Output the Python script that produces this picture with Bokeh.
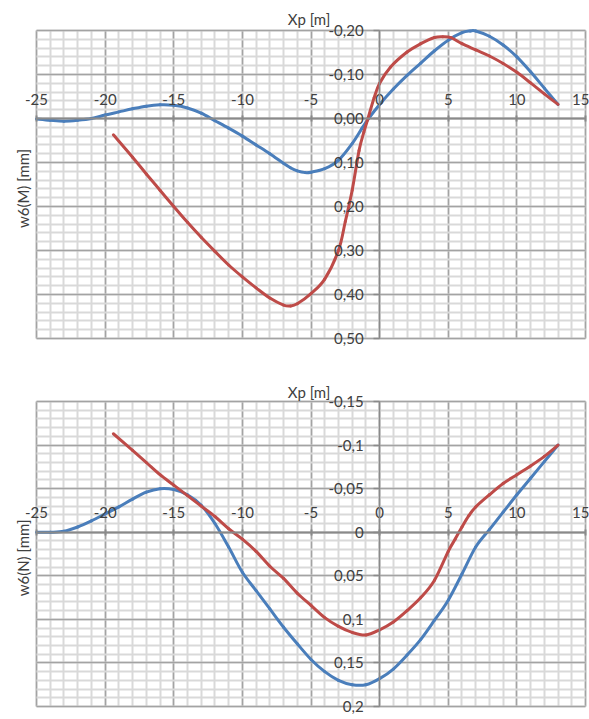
import numpy as np
from bokeh.plotting import figure
from bokeh.models import Range1d, LinearAxis, FixedTicker, Grid, Label
from bokeh.layouts import column
from bokeh.embed import file_html
from bokeh.resources import INLINE

# ---------------- data ----------------
x_ticks = [-25, -20, -15, -10, -5, 0, 5, 10, 15]
x_tick_labels = ["-25", "-20", "-15", "-10", "-5", "0", "5", "10", "15"]

m_y_ticks = [-0.2, -0.1, 0.0, 0.1, 0.2, 0.3, 0.4, 0.5]
m_y_tick_labels = ["-0,20", "-0,10", "0,00", "0,10", "0,20", "0,30", "0,40", "0,50"]

n_y_ticks = [-0.15, -0.1, -0.05, 0.0, 0.05, 0.1, 0.15, 0.2]
n_y_tick_labels = ["-0,15", "-0,1", "-0,05", "0", "0,05", "0,1", "0,15", "0,2"]

x_title = "Xp  [m]"
m_y_title = "w6(M)  [mm]"
n_y_title = "w6(N)  [mm]"

# w6(M) - blue series
m_blue_x = [-25, -24, -23, -22, -21, -20, -19, -18, -17, -16, -15, -14, -13, -12, -11,
            -10, -9, -8, -7, -6.5, -6, -5.4, -5, -4, -3, -2, -1.3, -0.8, 0, 1, 2, 3, 4,
            5, 6, 6.6, 7, 8, 9, 10, 11, 12, 13]
m_blue_y = [0.001, 0.004, 0.006, 0.004, 0.0, -0.008, -0.015, -0.022, -0.028, -0.031,
            -0.030, -0.024, -0.012, 0.005, 0.022, 0.040, 0.060, 0.080, 0.102, 0.112,
            0.119, 0.123, 0.122, 0.114, 0.095, 0.057, 0.023, 0.0, -0.032, -0.067,
            -0.098, -0.126, -0.154, -0.178, -0.195, -0.199, -0.199, -0.187, -0.167,
            -0.140, -0.106, -0.069, -0.032]

# w6(M) - red series
m_red_x = [-19.4, -18, -17, -16, -15, -14, -13, -12, -11, -10, -9, -8, -7, -6.5, -6, -5,
           -4, -3, -2.5, -2, -1.5, -1.15, -0.85, -0.4, 0, 0.8, 2, 3, 4, 4.6, 5.2, 6, 7,
           8, 9, 10, 11, 12, 13]
m_red_y = [0.037, 0.088, 0.126, 0.163, 0.200, 0.236, 0.270, 0.302, 0.333, 0.360, 0.385,
           0.408, 0.424, 0.426, 0.421, 0.398, 0.365, 0.300, 0.234, 0.163, 0.073, 0.031,
           0.0, -0.047, -0.080, -0.117, -0.151, -0.170, -0.184, -0.186, -0.184, -0.170,
           -0.156, -0.142, -0.125, -0.105, -0.081, -0.056, -0.032]

# w6(N) - blue series
n_blue_x = [-25, -24, -23, -22, -21, -20, -19, -18, -17, -16, -15, -14, -13, -12, -11,
            -10, -9, -8, -7, -6, -5, -4, -3, -2, -1, 0, 1, 2, 3, 4, 5, 6, 7, 8, 9, 10,
            11, 12, 13]
n_blue_y = [0.0, 0.0, -0.001, -0.006, -0.013, -0.021, -0.029, -0.038, -0.046, -0.050,
            -0.049, -0.043, -0.031, -0.010, 0.017, 0.046, 0.067, 0.088, 0.109, 0.128,
            0.146, 0.160, 0.170, 0.175, 0.175, 0.168, 0.157, 0.141, 0.123, 0.101, 0.078,
            0.048, 0.017, -0.003, -0.023, -0.043, -0.062, -0.081, -0.100]

# w6(N) - red series
n_red_x = [-19.4, -18, -17, -16, -15, -14, -13, -12, -11, -10, -9, -8, -7, -6, -5, -4,
           -3, -2, -1, 0, 1, 2, 3, 4, 5, 5.5, 6, 6.5, 7, 8, 9, 10, 11, 12, 13]
n_red_y = [-0.113, -0.094, -0.080, -0.066, -0.054, -0.042, -0.030, -0.018, -0.004,
           0.008, 0.022, 0.039, 0.053, 0.070, 0.084, 0.098, 0.108, 0.115, 0.118, 0.112,
           0.103, 0.090, 0.075, 0.055, 0.022, 0.008, -0.006, -0.019, -0.029, -0.043,
           -0.056, -0.066, -0.076, -0.087, -0.100]

# ---------------- style / layout ----------------
FONT = "Lato"
FS = "15px"
TXT = "#404040"
MAJOR = "#a3a3a3"
MINOR = "#d9d9d9"
AXIS = "#8a8a8a"
BLUE = "#4a7ebb"
RED = "#be4b48"
W = 589
PLOT_L, PLOT_R = 36, 585          # pixel extent of the plotting area (x)
X_LO, X_HI = -25, 15


def smooth(xs, ys):
    """Excel-style smoothed line: cubic Bezier segments through the data points."""
    n = len(xs)
    seg = dict(x0=[], y0=[], x1=[], y1=[], cx0=[], cy0=[], cx1=[], cy1=[])
    for i in range(n - 1):
        a = max(i - 1, 0)
        d = min(i + 2, n - 1)
        seg["x0"].append(xs[i]); seg["y0"].append(ys[i])
        seg["x1"].append(xs[i + 1]); seg["y1"].append(ys[i + 1])
        seg["cx0"].append(xs[i] + (xs[i + 1] - xs[a]) / 6.0)
        seg["cy0"].append(ys[i] + (ys[i + 1] - ys[a]) / 6.0)
        seg["cx1"].append(xs[i + 1] - (xs[d] - xs[i]) / 6.0)
        seg["cy1"].append(ys[i + 1] - (ys[d] - ys[i]) / 6.0)
    return seg


HAS_CROSS = "cross_bounds" in Grid.properties()


def panel(height, top_px, bottom_px, y_top, y_bottom, y_ticks, y_labels, y_minor_step,
          y_title, xtitle_gap, series):
    xpp = (X_HI - X_LO) / (PLOT_R - PLOT_L)
    ypp = (y_bottom - y_top) / (bottom_px - top_px)
    x_range = Range1d(X_LO - PLOT_L * xpp, X_HI + (W - PLOT_R) * xpp)
    y_range = Range1d(y_bottom + (height - bottom_px) * ypp, y_top - top_px * ypp)
    p = figure(width=W, height=height, x_range=x_range, y_range=y_range,
               output_backend="svg", toolbar_location=None,
               x_axis_location=None, y_axis_location=None,
               min_border=0, min_border_left=0, min_border_right=0,
               min_border_top=0, min_border_bottom=0,
               outline_line_color=None, background_fill_color="white",
               border_fill_color="white")
    p.center = []

    lo, hi = min(y_top, y_bottom), max(y_top, y_bottom)
    x_minor = list(np.arange(X_LO, X_HI + 0.5, 1.0))
    y_minor = list(np.round(np.arange(lo, hi + y_minor_step / 2, y_minor_step), 4))
    eps_x, eps_y = 1e-6 * (X_HI - X_LO), 1e-6 * (hi - lo)

    if HAS_CROSS:
        p.add_layout(Grid(dimension=0, ticker=FixedTicker(ticks=x_ticks, minor_ticks=x_minor),
                          bounds=(X_LO - eps_x, X_HI + eps_x), cross_bounds=(lo, hi),
                          grid_line_color=MAJOR, grid_line_width=1.5,
                          minor_grid_line_color=MINOR, minor_grid_line_width=2,
                          level="image"), "center")
        p.add_layout(Grid(dimension=1, ticker=FixedTicker(ticks=y_ticks, minor_ticks=y_minor),
                          bounds=(lo - eps_y, hi + eps_y), cross_bounds=(X_LO, X_HI),
                          grid_line_color=MAJOR, grid_line_width=1.5,
                          minor_grid_line_color=MINOR, minor_grid_line_width=2,
                          level="image"), "center")
    else:
        p.segment(x0=x_minor, x1=x_minor, y0=lo, y1=hi, line_color=MINOR, line_width=2)
        p.segment(x0=X_LO, x1=X_HI, y0=y_minor, y1=y_minor, line_color=MINOR, line_width=2)
        p.segment(x0=x_ticks, x1=x_ticks, y0=lo, y1=hi, line_color=MAJOR, line_width=1.5)
        p.segment(x0=X_LO, x1=X_HI, y0=y_ticks, y1=y_ticks, line_color=MAJOR, line_width=1.5)

    common = dict(major_label_text_font=FONT, major_label_text_font_size=FS,
                  major_label_text_color=TXT, minor_tick_line_color=None,
                  axis_line_color=AXIS, major_tick_line_color=AXIS)
    xa = LinearAxis(fixed_location=0, bounds=(X_LO, X_HI), ticker=FixedTicker(ticks=x_ticks),
                    major_label_overrides=dict(zip(x_ticks, x_tick_labels)),
                    axis_line_width=2, major_tick_line_width=2,
                    major_tick_in=3, major_tick_out=3, major_label_standoff=11, **common)
    ya = LinearAxis(fixed_location=0, bounds=(lo, hi), ticker=FixedTicker(ticks=y_ticks),
                    major_label_overrides=dict(zip(y_ticks, y_labels)),
                    axis_line_width=1.5, major_tick_line_width=1.5,
                    major_tick_in=0, major_tick_out=6, major_label_standoff=10, **common)
    p.add_layout(xa, "above")
    p.add_layout(ya, "left")

    for xs, ys, c in series:
        p.bezier(line_color=c, line_width=3, line_cap="round", **smooth(xs, ys))

    # axis titles (Excel places them centred on the plotting area)
    p.add_layout(Label(x=(X_LO + X_HI) / 2, y=y_top - xtitle_gap * ypp, text=x_title,
                       text_font=FONT, text_font_size=FS, text_color=TXT,
                       text_align="center", text_baseline="middle"))
    p.add_layout(Label(x=X_LO - 14 * xpp, y=(y_top + y_bottom) / 2 + 2 * ypp,
                       text=y_title, angle=np.pi / 2,
                       text_font=FONT, text_font_size=FS, text_color=TXT,
                       text_align="center", text_baseline="middle"))
    return p


p1 = panel(366, 30, 338, -0.2, 0.5, m_y_ticks, m_y_tick_labels, 0.02, m_y_title, 12,
           [(m_blue_x, m_blue_y, BLUE), (m_red_x, m_red_y, RED)])
p2 = panel(353, 35, 340, -0.15, 0.2, n_y_ticks, n_y_tick_labels, 0.01, n_y_title, 10,
           [(n_blue_x, n_blue_y, BLUE), (n_red_x, n_red_y, RED)])

layout = column(p1, p2)
open("out.html", "w").write(file_html(layout, INLINE))
